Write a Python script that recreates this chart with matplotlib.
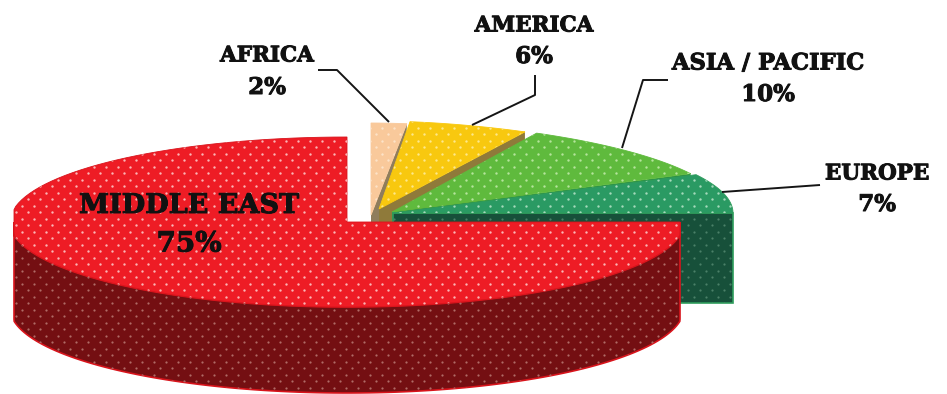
import numpy as np
import matplotlib
matplotlib.use('Agg')
import matplotlib.pyplot as plt
import matplotlib.patheffects as pe
from matplotlib.patches import Polygon

# share of each region, clockwise from 12 o'clock
regions = ['AFRICA', 'AMERICA', 'ASIA / PACIFIC', 'EUROPE', 'MIDDLE EAST']
shares = [2, 6, 10, 7, 75]

top_colors = ['#f9c99b', '#f8c80f', '#5fba3d', '#2a9a63', '#ee1c25']
wall_colors = ['#8f7d5c', '#8f7a3a', '#2a8f46', '#17503a', '#740f12']
edge_colors = ['#f9c99b', '#f8c80f', '#5fba3d', '#2f9d5c', '#d8141c']
dot_colors = ['#fde3c8', '#fde88c', '#b5e49c', '#a4dabb', '#fbb4b4']
wall_dot_colors = ['#8f7d5c', '#8f7a3a', '#2a8f46', '#4a8068', '#b06a66']

# centre x, centre y, radius x, radius y, depth of each slice in pixels
centers_x = [371, 379, 392, 393, 347]
centers_y = [215, 209, 212, 213, 222]
radii_x = [390, 338, 335, 340, 337]
radii_y = [92, 88, 90, 90, 85]
depths = [90, 90, 90, 90, 86]
half_width = 333  # the big slice is cut flat at both sides


def rim(i, t0, t1, n=120):
    t = np.radians(np.linspace(t0, t1, n))
    s = np.sin(t)
    # the back quadrant is squeezed sideways by the viewing angle
    s = np.where(t <= np.pi / 2, np.abs(s) ** 1.15, s)
    x = centers_x[i] + radii_x[i] * s
    if i == len(shares) - 1:
        x = np.clip(x, centers_x[i] - half_width, centers_x[i] + half_width)
    return np.column_stack((x, centers_y[i] - radii_y[i] * np.cos(t)))


def add_dots(ax, patch, color, size=3.0):
    # staggered dot texture, clipped to the patch
    xs, ys = [], []
    for k, y in enumerate(np.arange(4, 394, 6.5)):
        row = np.arange(4 + (k % 2) * 6, 947, 12)
        xs.extend(row)
        ys.extend([y] * len(row))
    dots = ax.scatter(xs, ys, s=size, color=color, linewidths=0, zorder=patch.get_zorder())
    dots.set_clip_path(patch)


fig = plt.figure(figsize=(9.47, 3.94), dpi=100)
ax = fig.add_axes([0, 0, 1, 1])
ax.set_xlim(0, 947)
ax.set_ylim(394, 0)
ax.axis('off')

edges = np.cumsum([0] + shares) * 3.6
for i in range(len(shares)):
    t0, t1 = edges[i], edges[i + 1]
    z = 2 + i * 2
    outline = rim(i, t0, t1)
    apex = np.array([[centers_x[i], centers_y[i]]])
    drop = np.array([0, depths[i]])

    if t1 < 360:
        # cut face at the clockwise end of a slice
        end = np.vstack((apex, outline[-1:], outline[-1:] + drop, apex + drop))
    else:
        # front rim of the big slice
        front = rim(i, t0, 270)
        end = np.vstack((front, (front + drop)[::-1]))
    wall = Polygon(end, closed=True, facecolor=wall_colors[i], edgecolor=edge_colors[i],
                   linewidth=1.2 if i >= 3 else 0, zorder=z)
    ax.add_patch(wall)
    if i >= 3:
        add_dots(ax, wall, wall_dot_colors[i], 2.6)

    top = Polygon(np.vstack((apex, outline)), closed=True, facecolor=top_colors[i],
                  edgecolor=edge_colors[i], linewidth=0.6, zorder=z + 1)
    ax.add_patch(top)
    add_dots(ax, top, dot_colors[i])

# leader lines
leader_xs = [[318, 337, 389], [535, 535, 472], [668, 643, 622], [820, 722]]
leader_ys = [[70, 70, 122], [75, 95, 125], [80, 80, 148], [185, 192]]
for lx, ly in zip(leader_xs, leader_ys):
    ax.plot(lx, ly, color='#151515', linewidth=1.4, zorder=20, solid_capstyle='butt')

# region labels
label_xs = [267, 534, 768, 877, 189]
name_ys = [55.5, 25.5, 63.5, 173.5, 205.5]
share_ys = [88, 57, 95, 205, 244]
name_sizes = [15.5, 15.5, 16.3, 15.5, 19.5]
share_sizes = [16.5, 16.5, 16.5, 16.5, 20]
heavy = [pe.withStroke(linewidth=0.7, foreground='#111111')]
for name, share, x, ny, sy, ns, ss in zip(regions, shares, label_xs, name_ys, share_ys, name_sizes, share_sizes):
    ax.text(x, ny, name, family='DejaVu Serif', weight='bold', fontsize=ns, color='#111111',
            ha='center', va='center', zorder=21, path_effects=heavy)
    ax.text(x, sy, '%d%%' % share, family='DejaVu Serif', weight='bold', fontsize=ss,
            color='#111111', ha='center', va='center', zorder=21, path_effects=heavy)

fig.savefig('out.png', dpi=100)
